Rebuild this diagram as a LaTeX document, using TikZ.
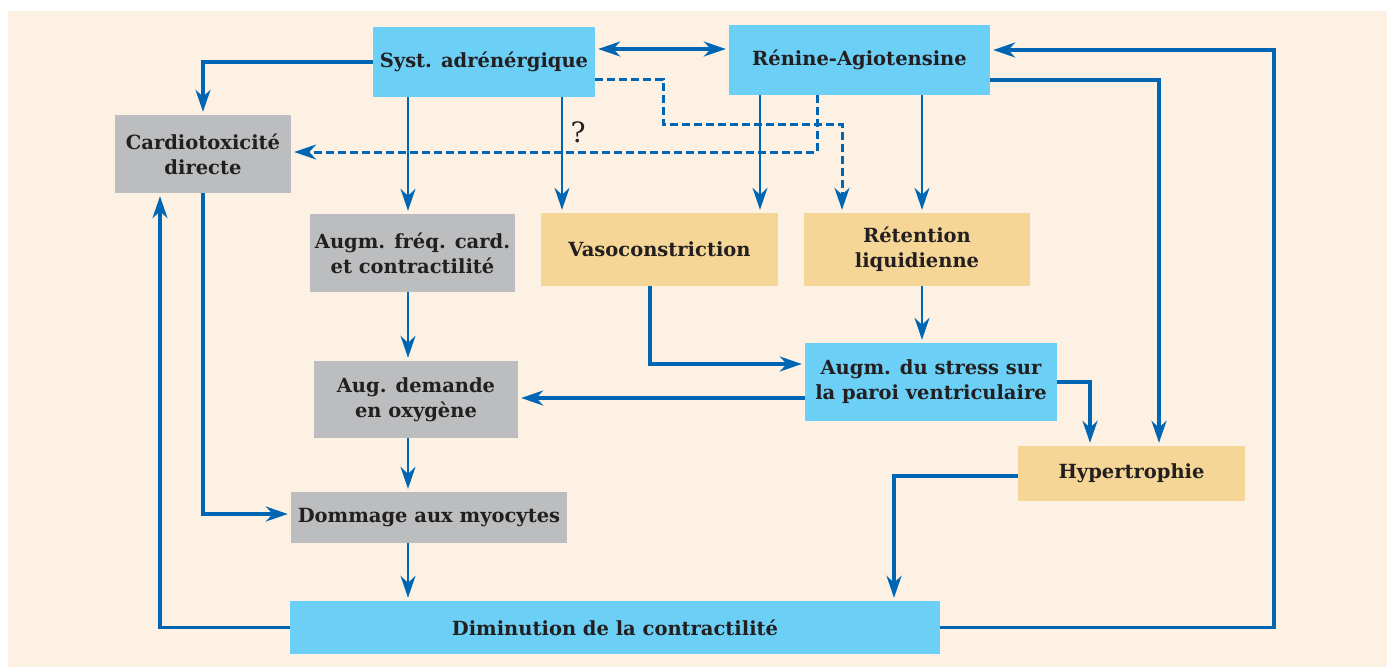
\documentclass[tikz,border=0pt]{standalone}
\usepackage{fontspec}
\setmainfont{DejaVu Serif}
\usetikzlibrary{arrows.meta}
\definecolor{bgcream}{RGB}{252,241,227}
\definecolor{boxblue}{RGB}{107,207,246}
\definecolor{boxgray}{RGB}{188,189,191}
\definecolor{boxtan}{RGB}{245,214,150}
\definecolor{linkblue}{RGB}{0,102,180}
\definecolor{txt}{RGB}{35,31,32}
\tikzset{
  box/.style={inner sep=0pt, align=center, text=txt, font=\bfseries\fontsize{19.5}{25}\selectfont},
  bluebox/.style={box, fill=boxblue},
  graybox/.style={box, fill=boxgray},
  tanbox/.style={box, fill=boxtan},
  tip/.tip={Stealth[length=22pt,width=15pt,inset=7pt]},
  thin link/.style={draw=linkblue, line width=1.9pt, -tip, shorten >=3pt},
  thick link/.style={draw=linkblue, line width=3.2pt, -tip, shorten >=3pt},
  dash link/.style={draw=linkblue, line width=3pt, dash pattern=on 8pt off 4pt, -tip, shorten >=3pt},
}
\begin{document}
\begin{tikzpicture}[x=1pt,y=-1pt]
\useasboundingbox (0,0) rectangle (1387,667);
\fill[bgcream] (8,11) rectangle (1387,667);

\node[bluebox, minimum width=222pt, minimum height=70pt] (sa) at (484,62) {Syst. adrénérgique};
\node[bluebox, minimum width=261pt, minimum height=70pt] (ra) at (859.5,60) {Rénine-Agiotensine};
\node[graybox, minimum width=176pt, minimum height=78pt] (ct) at (203,154) {Cardiotoxicité\\directe};
\node[graybox, minimum width=205pt, minimum height=78pt] (af) at (412.5,253) {Augm. fréq. card.\\et contractilité};
\node[tanbox, minimum width=237pt, minimum height=73pt] (vc) at (659.5,249.5) {Vasoconstriction};
\node[tanbox, minimum width=226pt, minimum height=73pt] (rl) at (917,249.5) {Rétention\\liquidienne};
\node[bluebox, minimum width=252pt, minimum height=78pt] (st) at (931,382) {Augm. du stress sur\\la paroi ventriculaire};
\node[graybox, minimum width=204pt, minimum height=77pt] (ad) at (416,399.5) {Aug. demande\\en oxygène};
\node[tanbox, minimum width=227pt, minimum height=55pt] (hy) at (1131.5,473.5) {Hypertrophie};
\node[graybox, minimum width=276pt, minimum height=51pt] (dm) at (429,517.5) {Dommage aux myocytes};
\node[bluebox, minimum width=650pt, minimum height=53pt] (di) at (615,627.5) {Diminution de la contractilité};

% anchor points on the boxes
\coordinate (saA) at ([xshift=-76pt]sa.south);
\coordinate (saB) at ([xshift=78pt]sa.south);
\coordinate (saE) at ([yshift=13pt]sa.east);
\coordinate (saD) at ([yshift=-17pt]sa.east);
\coordinate (raA) at ([xshift=-99.5pt]ra.south);
\coordinate (raD) at ([xshift=-42.5pt]ra.south);
\coordinate (raB) at ([xshift=62.5pt]ra.south);
\coordinate (raE) at ([yshift=-20pt]ra.east);
\coordinate (raF) at ([yshift=10pt]ra.east);
\coordinate (rlD) at ([xshift=-75pt]rl.north);
\coordinate (vcS) at ([xshift=-9.5pt]vc.south);
\coordinate (rlS) at ([xshift=5pt]rl.south);
\coordinate (stW2) at ([yshift=-16pt]st.west);
\coordinate (hyW) at ([yshift=-2.5pt]hy.west);
\coordinate (afS) at ([xshift=-4.5pt]af.south);
\coordinate (adS) at ([xshift=-8pt]ad.south);
\coordinate (dmS) at ([xshift=-21pt]dm.south);
\coordinate (k1) at (663,0);
\coordinate (k2) at (0,124);
\coordinate (k3) at (0,152);
\coordinate (k4) at (650,364);
\coordinate (k5) at (1090,0);
\coordinate (k6) at (894,0);
\coordinate (k7) at (0,514);
\coordinate (k8) at (160,0);
\coordinate (k9) at (1159,0);
\coordinate (k10) at (1274,0);

% solid links
\draw[thick link] (sa.west) -| (ct.north);
\draw[draw=linkblue, line width=3.2pt, tip-tip, shorten >=3pt, shorten <=3pt] (saE) -- (saE -| ra.west);
\draw[thin link] (saA) -- (saA |- af.north);
\draw[thin link] (saB) -- (saB |- vc.north);
\node[font=\fontsize{28}{28}\selectfont, text=txt, inner sep=0pt] (q) at (578,132) {?};
\draw[thin link] (raA) -- (raA |- vc.north);
\draw[thin link] (raB) -- (raB |- rl.north);
\draw[thick link] (raE) -| (hy.north -| k9);
\draw[thick link] (di.east) -| (k10 |- raF) -- (raF);
\draw[thick link] (vcS) |- (st.west |- k4);
\draw[thin link] (rlS) -- (rlS |- st.north);
\draw[thick link] (stW2) -- (stW2 -| ad.east);
\draw[thick link] (st.east) -| (hy.north -| k5);
\draw[thick link] (hyW) -| (di.north -| k6);
\draw[thin link] (afS) -- (afS |- ad.north);
\draw[thin link] (adS) -- (adS |- dm.north);
\draw[thick link] (ct.south) |- (dm.west |- k7);
\draw[thin link] (dmS) -- (dmS |- di.north);
\draw[thick link] (di.west) -| (k8 |- ct.south);

% dashed links
\draw[dash link] (saD) -| (k1 |- k2) -| (rlD);
\draw[dash link] (raD) |- (ct.east |- k3);
\end{tikzpicture}
\end{document}
